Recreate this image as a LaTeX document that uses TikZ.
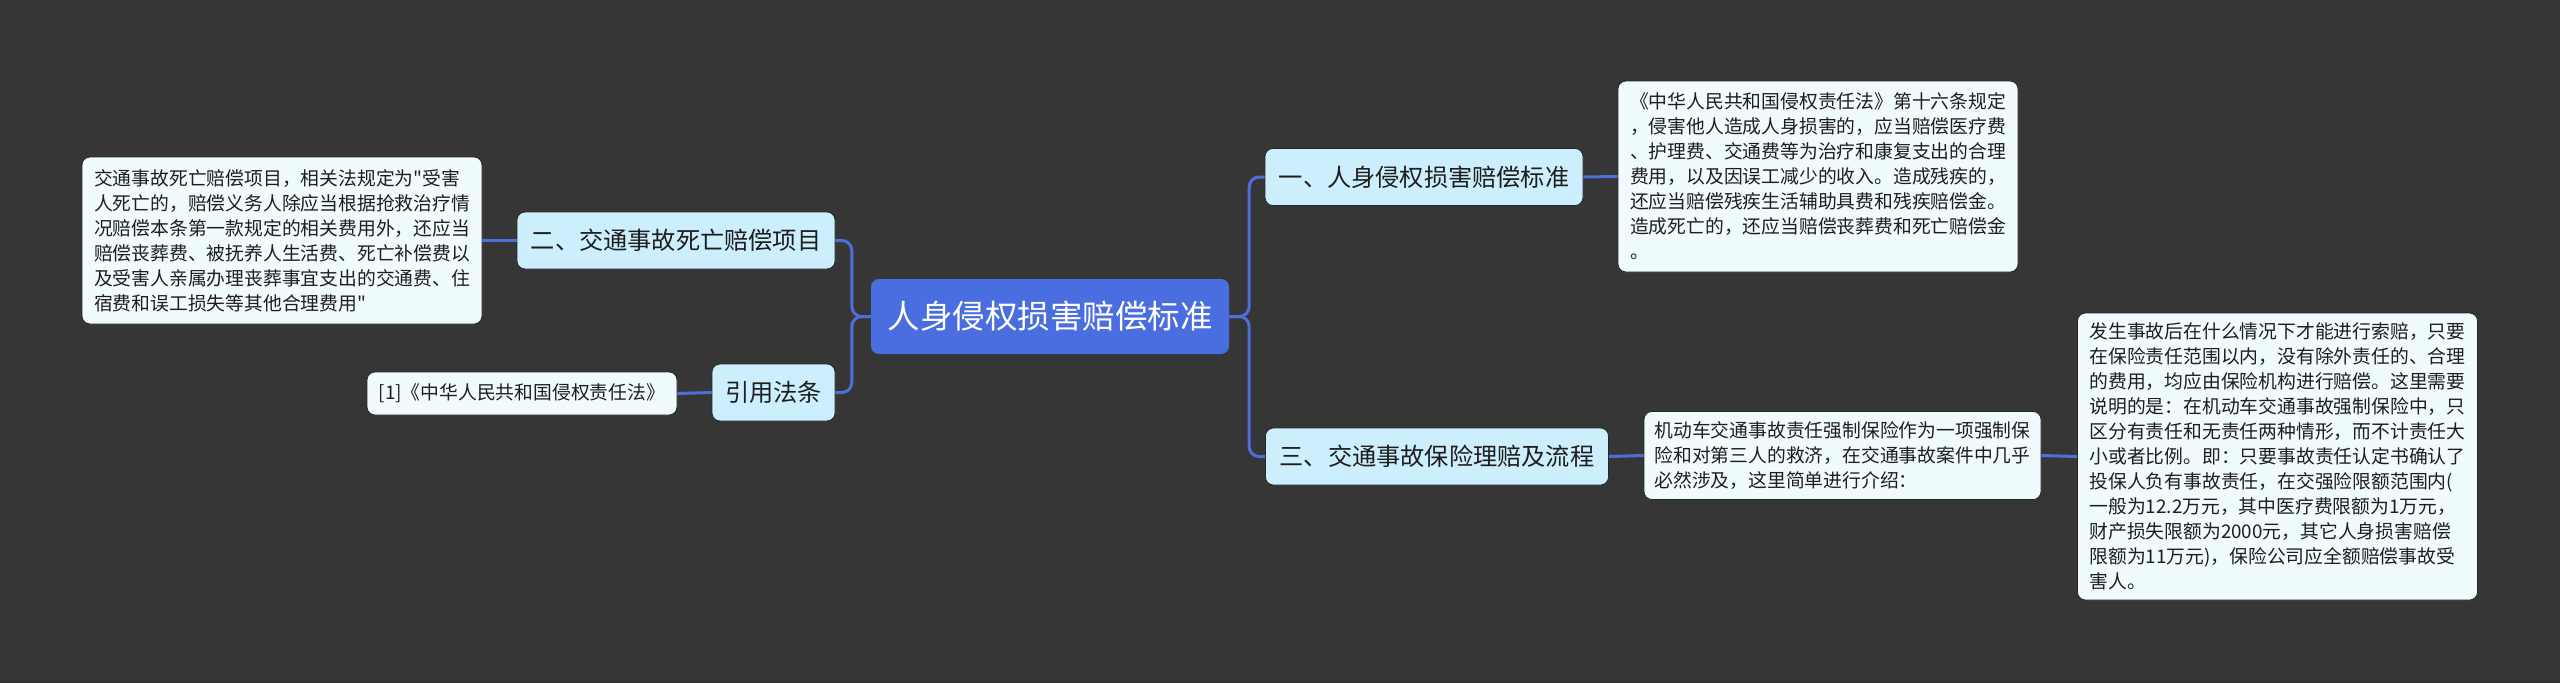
\documentclass[tikz,border=0pt]{standalone}
\usepackage{fontspec}
\setmainfont{Noto Sans CJK SC}[Ligatures=TeXOff]
\definecolor{bgc}{HTML}{363636}
\definecolor{linkc}{HTML}{4E6FDB}
\definecolor{rootfill}{HTML}{4A6EE0}
\definecolor{branchfill}{HTML}{CDEEFD}
\definecolor{leaffill}{HTML}{F0FBFD}
\definecolor{ink}{HTML}{1E1E1E}
\begin{document}
\begin{tikzpicture}[x=1pt,y=-1pt,
 rootnode/.style={fill=rootfill, rounded corners=8pt, text=white, font=\fontsize{32.5}{38}\selectfont, minimum width=358pt, minimum height=75pt, inner sep=0pt},
 branchnode/.style={fill=branchfill, draw=black!85, line width=0.8pt, rounded corners=8pt, text=ink, font=\fontsize{24.2}{28}\selectfont, minimum height=57pt, inner sep=0pt},
 leafnode/.style={fill=leaffill, draw=black!85, line width=0.8pt, rounded corners=8pt, text=ink, font=\fontsize{18.8}{25}\selectfont, align=left, inner sep=0pt},
 linkst/.style={draw=linkc, line width=3pt, rounded corners=10pt}]
\fill[bgc] (0,0) rectangle (2560,683);
\useasboundingbox (0,0) rectangle (2560,683);

\node[rootnode] (root) at (1050,316.5) {人身侵权损害赔偿标准};
\node[branchnode, minimum width=318pt] (b1) at (1424,177) {一、人身侵权损害赔偿标准};
\node[branchnode, minimum width=343pt] (b3) at (1437,456.5) {三、交通事故保险理赔及流程};
\node[branchnode, minimum width=318pt] (b2) at (676,240.5) {二、交通事故死亡赔偿项目};
\node[branchnode, minimum width=123pt] (b4) at (773.5,392.5) {引用法条};

\node[leafnode, minimum width=400pt, minimum height=167pt] (l2) at (282,240.5) {交通事故死亡赔偿项目，相关法规定为"受害\\人死亡的，赔偿义务人除应当根据抢救治疗情\\况赔偿本条第一款规定的相关费用外，还应当\\赔偿丧葬费、被抚养人生活费、死亡补偿费以\\及受害人亲属办理丧葬事宜支出的交通费、住\\宿费和误工损失等其他合理费用"};
\node[leafnode, minimum width=310pt, minimum height=43pt] (l4) at (522,393.5) {[1]《中华人民共和国侵权责任法》};
\node[leafnode, minimum width=400pt, minimum height=191pt] (t1) at (1818,176.5) {《中华人民共和国侵权责任法》第十六条规定\\，侵害他人造成人身损害的，应当赔偿医疗费\\、护理费、交通费等为治疗和康复支出的合理\\费用，以及因误工减少的收入。造成残疾的，\\还应当赔偿残疾生活辅助具费和残疾赔偿金。\\造成死亡的，还应当赔偿丧葬费和死亡赔偿金\\。};
\node[leafnode, minimum width=397pt, minimum height=88pt] (t3) at (1842.5,455.5) {机动车交通事故责任强制保险作为一项强制保\\险和对第三人的救济，在交通事故案件中几乎\\必然涉及，这里简单进行介绍：};
\node[leafnode, minimum width=400pt, minimum height=287pt] (t4) at (2277.5,456.5) {发生事故后在什么情况下才能进行索赔，只要\\在保险责任范围以内，没有除外责任的、合理\\的费用，均应由保险机构进行赔偿。这里需要\\说明的是：在机动车交通事故强制保险中，只\\区分有责任和无责任两种情形，而不计责任大\\小或者比例。即：只要事故责任认定书确认了\\投保人负有事故责任，在交强险限额范围内(\\一般为12.2万元，其中医疗费限额为1万元，\\财产损失限额为2000元，其它人身损害赔偿\\限额为11万元)，保险公司应全额赔偿事故受\\害人。};

\draw[linkst] (root.east) -- ++(20,0) |- (b1.west);
\draw[linkst] (root.east) -- ++(20,0) |- (b3.west);
\draw[linkst] (root.west) -- ++(-19,0) |- (b2.east);
\draw[linkst] (root.west) -- ++(-19,0) |- (b4.east);
\draw[linkst] (b1.east) -- (t1.west);
\draw[linkst] (b3.east) -- (t3.west);
\draw[linkst] (t3.east) -- (t4.west);
\draw[linkst] (b2.west) -- (l2.east);
\draw[linkst] (b4.west) -- (l4.east);
\end{tikzpicture}
\end{document}
